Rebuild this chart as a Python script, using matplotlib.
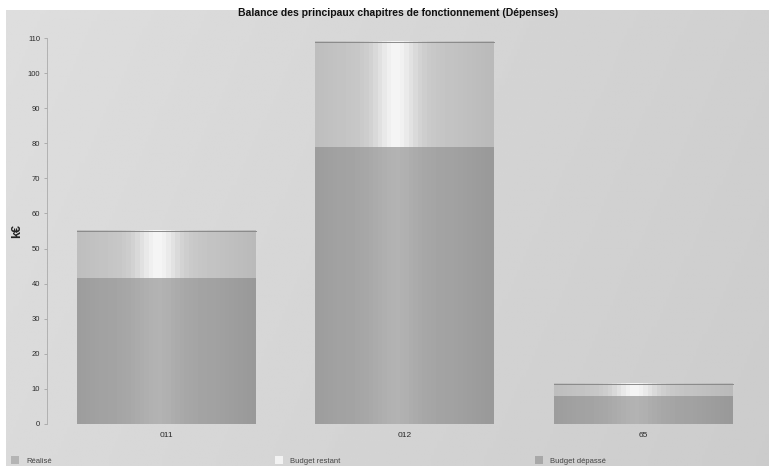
import numpy as np
import matplotlib
matplotlib.use("Agg")
import matplotlib.pyplot as plt
from matplotlib.patches import Patch

# Chapters and amounts (k€)
categories = ["011", "012", "65"]
realise = [41.5, 79.0, 8.0]
budget_restant = [13.5, 30.0, 3.5]
budget_depasse = [0.0, 0.0, 0.0]
yticks = list(range(0, 111, 10))
legend_labels = ["Réalisé", "Budget restant", "Budget dépassé"]

plt.rcParams["font.family"] = ["Liberation Sans", "DejaVu Sans"]

W, H = 769, 466
fig = plt.figure(figsize=(W / 100, H / 100), dpi=100, facecolor="white")

# Panel background: soft grey with a gentle light-to-dark sweep
bg = fig.add_axes([6 / W, 0, 1 - 6 / W, 1 - 10 / H], zorder=-10)
gx = np.linspace(0, 1, 256)
gy = np.linspace(0, 1, 64)[:, None]
shade = 0.855 - 0.055 * gx[None, :] + 0.015 * gy
bg.imshow(shade, cmap="gray", vmin=0, vmax=1, aspect="auto",
          extent=[0, 1, 0, 1], origin="lower")
bg.set_axis_off()

ax = fig.add_axes([47 / W, 1 - 424 / H, 716 / W, (424 - 38) / H])
ax.set_facecolor("none")

x = np.arange(len(categories))
width = 0.75
bars_r = ax.bar(x, realise, width, color="#a4a4a4", edgecolor="none", zorder=2)
bars_b = ax.bar(x, budget_restant, width, bottom=realise, color="#cccccc",
                edgecolor="none", zorder=2)
totals = np.add(realise, budget_restant)
bars_d = ax.bar(x, budget_depasse, width, bottom=totals, color="#a5a5a5",
                edgecolor="none", zorder=2)


def cylinder(base, highlight, dark):
    t = np.linspace(0, 1, 40)
    prof = base + (highlight - base) * np.exp(-((t - 0.45) / 0.12) ** 2)
    prof -= dark * (np.abs(t - 0.45) / 0.55) ** 1.5
    return prof[None, :]


shade_r = cylinder(0.66, 0.70, 0.06)
shade_b = cylinder(0.79, 0.96, 0.06)

for bars, prof in ((bars_r, shade_r), (bars_b, shade_b)):
    for p in bars:
        if p.get_height() <= 0:
            continue
        x0, y0 = p.get_x(), p.get_y()
        ax.imshow(prof, cmap="gray", vmin=0, vmax=1, aspect="auto",
                  extent=[x0, x0 + p.get_width(), y0, y0 + p.get_height()],
                  zorder=3, interpolation="nearest")

# thin darker rim along the top of each stack
for p in bars_b:
    x0 = p.get_x()
    top = p.get_y() + p.get_height()
    ax.plot([x0, x0 + p.get_width()], [top, top], color="#8a8a8a",
            lw=0.7, zorder=4)

ax.set_xlim(-0.5, len(categories) - 0.5)
ax.set_ylim(0, 110)
ax.set_yticks(yticks)
ax.set_yticklabels([str(v) for v in yticks], fontsize=5.5, color="#2a2a2a")
ax.set_xticks(x)
ax.set_xticklabels(categories, fontsize=6, color="#2a2a2a")
ax.tick_params(axis="x", length=0, pad=6)
ax.tick_params(axis="y", length=2, width=0.5, color="#999999", pad=3)
for s in ("top", "right", "bottom"):
    ax.spines[s].set_visible(False)
ax.spines["left"].set_color("#aaaaaa")
ax.spines["left"].set_linewidth(0.6)

ax.set_ylabel("k€", fontsize=9, fontweight="bold", color="#222222", labelpad=3)

fig.text(398 / W, 1 - 13 / H,
         "Balance des principaux chapitres de fonctionnement (Dépenses)",
         ha="center", va="center", fontsize=7.5, fontweight="bold",
         color="#111111")

# Legend entries spread along the bottom edge
leg_colors = ["#b4b4b4", "#f2f2f2", "#a8a8a8"]
leg_x = [4 / W, 268 / W, 528 / W]
for lab, col, lx in zip(legend_labels, leg_colors, leg_x):
    fig.legend(handles=[Patch(facecolor=col, edgecolor="none")],
               labels=[lab], loc="lower left",
               bbox_to_anchor=(lx, -0.012), frameon=False, fontsize=5.5,
               handlelength=1.1, handleheight=1.1, handletextpad=0.9,
               labelcolor="#444444")

fig.savefig("out.png", dpi=100, facecolor=fig.get_facecolor())
